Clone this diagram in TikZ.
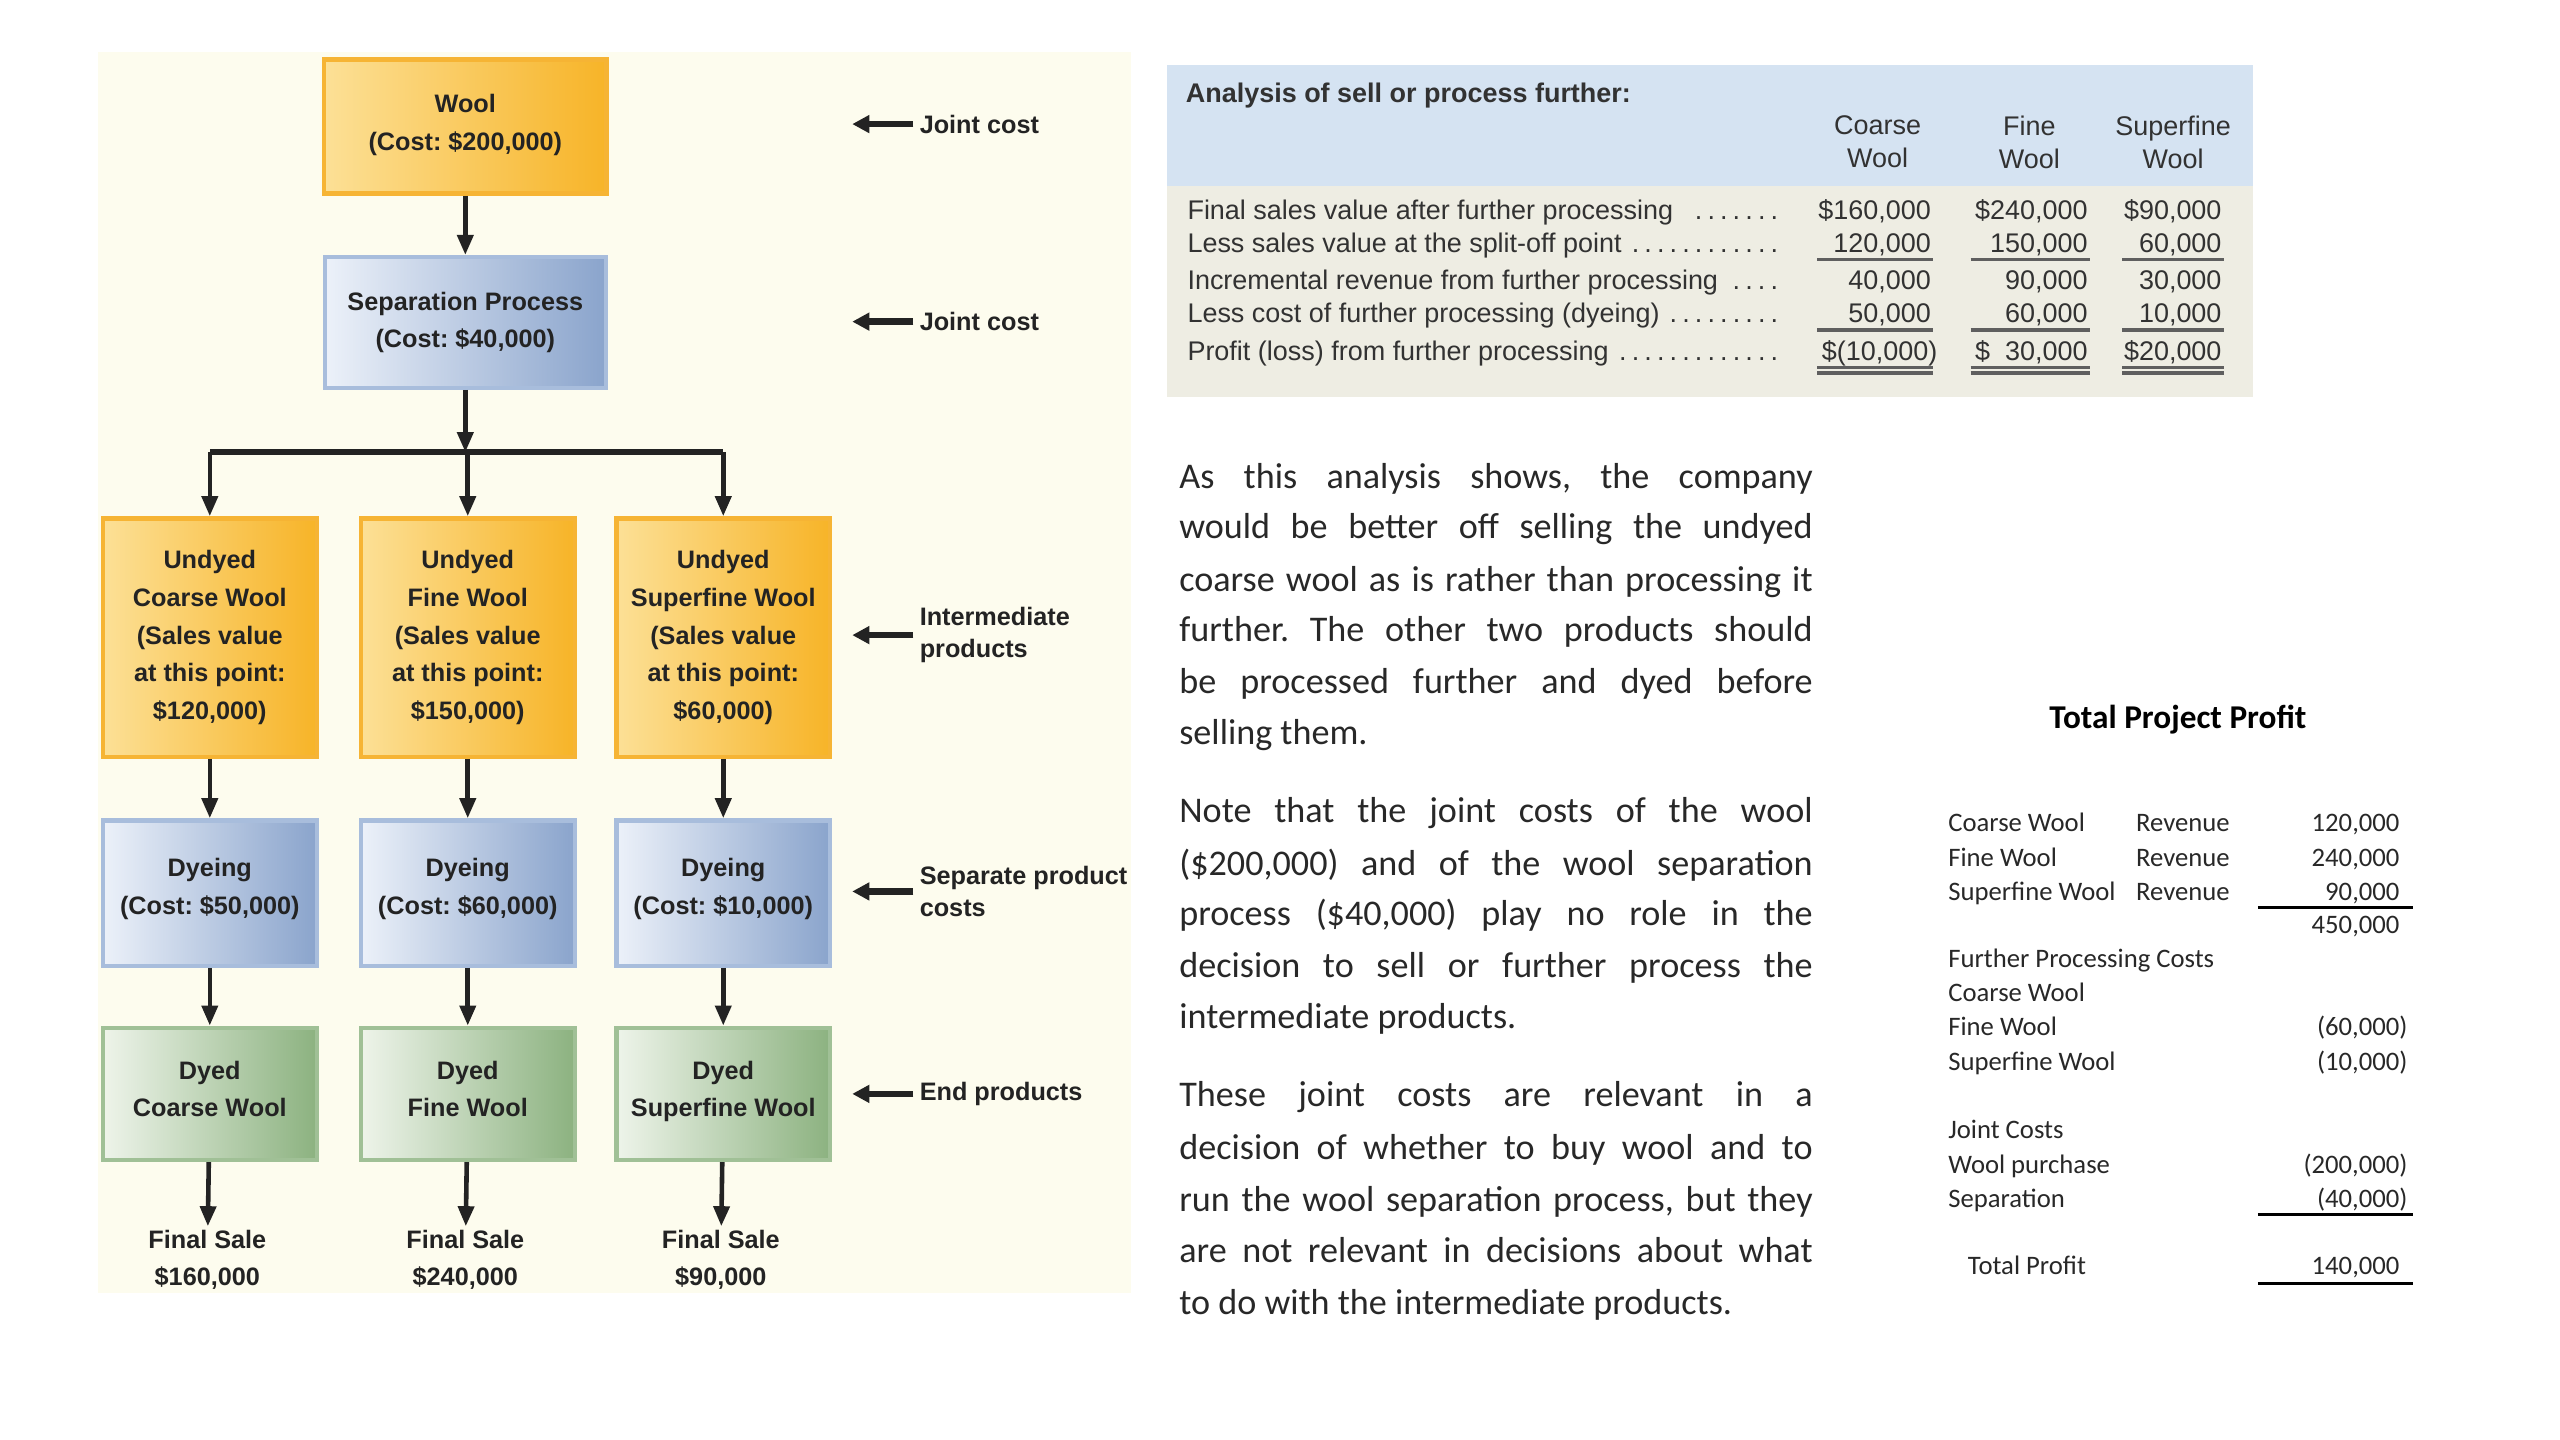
\documentclass[tikz,border=0pt]{standalone}
\usepackage{fontspec}
\setmainfont{Liberation Sans}
\newfontfamily\calfont{Carlito}
\usetikzlibrary{arrows.meta}
\frenchspacing
\definecolor{cream}{RGB}{253,252,238}
\definecolor{orbord}{RGB}{246,180,52}
\definecolor{orlight}{RGB}{252,224,150}
\definecolor{ordark}{RGB}{247,180,40}
\definecolor{blbord}{RGB}{168,189,220}
\definecolor{bllight}{RGB}{236,241,249}
\definecolor{bldark}{RGB}{138,164,204}
\definecolor{grbord}{RGB}{160,192,150}
\definecolor{grlight}{RGB}{238,244,234}
\definecolor{grdark}{RGB}{140,178,128}
\definecolor{tblue}{RGB}{213,227,242}
\definecolor{tbeige}{RGB}{238,237,227}
\definecolor{txt}{RGB}{35,35,35}
\definecolor{ttxt}{RGB}{50,50,50}
\definecolor{ulc}{RGB}{95,95,95}
\definecolor{ptxt}{RGB}{40,40,40}
\newcommand\dleader{\leaders\hbox to 4.4pt{\hss.\hss}\hfill}
\newcommand\lbl[1]{\makebox[7.32cm][l]{#1\ \dleader}}
\newcommand\jl[1]{\makebox[7.76cm][s]{#1}}
\newcommand\xdepth[1]{\rule[-#1]{0pt}{0pt}}
\begin{document}
\begin{tikzpicture}[x=0.02cm,y=-0.02cm,
 dtext/.style={font=\fontsize{8.8}{13.1}\selectfont\bfseries, text=txt, align=center, inner sep=1pt},
 boxbase/.style={dtext, line width=1.5pt, inner sep=0pt},
 obox/.style={boxbase, draw=orbord, left color=orlight, right color=ordark},
 bbox/.style={boxbase, draw=blbord, left color=bllight, right color=bldark},
 gbox/.style={boxbase, draw=grbord, left color=grlight, right color=grdark},
 colw/.style={minimum width=2.62cm},
 flow/.style={draw=txt, line width=1.6pt, -{Triangle[length=7pt,width=5.5pt]}},
 lab/.style={font=\fontsize{8.8}{11.4}\selectfont\bfseries, text=txt, align=left, anchor=west, inner sep=0pt},
 larrow/.style={draw=txt, line width=2.2pt, -{Triangle[length=6pt,width=6pt]}, shorten <=2pt},
 tt/.style={font=\fontsize{9.4}{11.4}\selectfont, text=ttxt, inner sep=0pt},
 uline/.style={draw=ulc, line width=1.2pt},
 para/.style={font=\calfont\fontsize{12.6}{17.9}\selectfont, text=ptxt, inner sep=0pt, anchor=base west},
 pf/.style={font=\calfont\fontsize{9.3}{11}\selectfont, text=ptxt, inner sep=0pt},
 pline/.style={draw=black, line width=1.1pt}
]
\useasboundingbox (0,0) rectangle (1568,882);
\fill[white] (0,0) rectangle (1568,882);
% left panel background
\fill[cream] (60,32) rectangle (693,792);

% boxes
\node[obox, minimum width=3.46cm, minimum height=1.64cm] (wool) at (285,77.5) {Wool\\(Cost: \$200,000)\xdepth{3pt}};
\node[bbox, minimum width=3.44cm, minimum height=1.6cm] (sep) at (285,197.5) {Separation Process\\(Cost: \$40,000)};
\coordinate (barY) at (0,277);
\node[obox, colw, minimum height=2.92cm] (uc) at (128.5,390.5) {Undyed\\Coarse Wool\\(Sales value\\at this point:\\\$120,000)};
\node[obox, colw, minimum height=2.92cm] (uf) at (286.5,390.5) {Undyed\\Fine Wool\\(Sales value\\at this point:\\\$150,000)};
\node[obox, colw, minimum height=2.92cm] (us) at (443,390.5) {Undyed\\Superfine Wool\\(Sales value\\at this point:\\\$60,000)};
\node[bbox, colw, minimum height=1.78cm] (dc) at (128.5,547) {Dyeing\\(Cost: \$50,000)\xdepth{4.6pt}};
\node[bbox, colw, minimum height=1.78cm] (df) at (286.5,547) {Dyeing\\(Cost: \$60,000)\xdepth{4.6pt}};
\node[bbox, colw, minimum height=1.78cm] (ds) at (443,547) {Dyeing\\(Cost: \$10,000)\xdepth{4.6pt}};
\node[gbox, colw, minimum height=1.62cm] (gc) at (128.5,670) {Dyed\\Coarse Wool\xdepth{3.6pt}};
\node[gbox, colw, minimum height=1.62cm] (gf) at (286.5,670) {Dyed\\Fine Wool\xdepth{3.6pt}};
\node[gbox, colw, minimum height=1.62cm] (gs) at (443,670) {Dyed\\Superfine Wool\xdepth{3.6pt}};
\node[dtext] (fc) at (127,771.5) {Final Sale\\\$160,000};
\node[dtext] (ff) at (285,771.5) {Final Sale\\\$240,000};
\node[dtext] (fsu) at (441.5,771.5) {Final Sale\\\$90,000};

% connectors
\draw[flow] (wool) -- (sep);
\draw[flow] (sep) -- (sep.south |- barY);
\draw[draw=txt, line width=2.2pt] (uc.north |- barY) -- (us.north |- barY);
\draw[flow] (uc.north |- barY) -- (uc);
\draw[flow] (uf.north |- barY) -- (uf);
\draw[flow] (us.north |- barY) -- (us);
\draw[flow] (uc) -- (dc);
\draw[flow] (uf) -- (df);
\draw[flow] (us) -- (ds);
\draw[flow] (dc) -- (gc);
\draw[flow] (df) -- (gf);
\draw[flow] (ds) -- (gs);
\draw[flow] (gc) -- (fc);
\draw[flow] (gf) -- (ff);
\draw[flow] (gs) -- (fsu);

% side labels
\node[lab] (jc1) at (563,76) {Joint cost};
\coordinate (jc1e) at (522,76);
\draw[larrow] (jc1) -- (jc1e);
\node[lab] (jc2) at (563,197) {Joint cost};
\coordinate (jc2e) at (522,197);
\draw[larrow] (jc2) -- (jc2e);
\node[lab] (ip) at (563,389) {Intermediate\\products};
\coordinate (ipe) at (522,389);
\draw[larrow] (ip) -- (ipe);
\node[lab] (spc) at (563,546) {Separate product\\costs};
\coordinate (spce) at (522,546);
\draw[larrow] (spc) -- (spce);
\node[lab] (ep) at (563,670) {End products};
\coordinate (epe) at (522,670);
\draw[larrow] (ep) -- (epe);

% analysis table
\fill[tblue] (715,40) rectangle (1380,114);
\fill[tbeige] (715,114) rectangle (1380,243);
\node[tt, anchor=base west] (ttl) at (726,62.5) {\bfseries Analysis of sell or process further:};
\node[tt, align=center] (hc) at (1150,87) {Coarse\\Wool};
\node[tt, align=center] (hf) at (1243,87) {Fine\\Wool};
\node[tt, align=center] (hs) at (1331,87) {Superfine\\Wool};
\node[tt, anchor=base west] (r1) at (727,134.5) {\lbl{Final sales value after further processing}};
\node[tt, anchor=base west] (r2) at (727,154.5) {\lbl{Less sales value at the split-off point}};
\node[tt, anchor=base west] (r3) at (727,177.5) {\lbl{Incremental revenue from further processing}};
\node[tt, anchor=base west] (r4) at (727,197.5) {\lbl{Less cost of further processing (dyeing)}};
\node[tt, anchor=base west] (r5) at (727,220.5) {\lbl{Profit (loss) from further processing}};
\node[tt, anchor=base east] (v11) at (1183,134.5) {\$160,000};
\node[tt, anchor=base east] (v12) at (1279,134.5) {\$240,000};
\node[tt, anchor=base east] (v13) at (1361,134.5) {\$90,000};
\node[tt, anchor=base east] (v21) at (1183,154.5) {120,000};
\node[tt, anchor=base east] (v22) at (1279,154.5) {150,000};
\node[tt, anchor=base east] (v23) at (1361,154.5) {60,000};
\node[tt, anchor=base east] (v31) at (1183,177.5) {40,000};
\node[tt, anchor=base east] (v32) at (1279,177.5) {90,000};
\node[tt, anchor=base east] (v33) at (1361,177.5) {30,000};
\node[tt, anchor=base east] (v41) at (1183,197.5) {50,000};
\node[tt, anchor=base east] (v42) at (1279,197.5) {60,000};
\node[tt, anchor=base east] (v43) at (1361,197.5) {10,000};
\node[tt, anchor=base east] (v51) at (1187,220.5) {\$(10,000)};
\node[tt, anchor=base east] (v52) at (1279,220.5) {\$\phantom{2}30,000};
\node[tt, anchor=base east] (v53) at (1361,220.5) {\$20,000};
\foreach \yy in {159,202,225,228.5}{
  \draw[uline] (1113,\yy) -- (1184,\yy);
  \draw[uline] (1207,\yy) -- (1280,\yy);
  \draw[uline] (1300,\yy) -- (1362,\yy);
}

% paragraphs
\node[para] (p1) at (722,299) {\jl{As this analysis shows, the company}};
\node[para] (p2) at (722,330) {\jl{would be better off selling the undyed}};
\node[para] (p3) at (722,362) {\jl{coarse wool as is rather than processing it}};
\node[para] (p4) at (722,393) {\jl{further. The other two products should}};
\node[para] (p5) at (722,425) {\jl{be processed further and dyed before}};
\node[para] (p6) at (722,456) {selling them.};
\node[para] (p7) at (722,504) {\jl{Note that the joint costs of the wool}};
\node[para] (p8) at (722,536) {\jl{(\$200,000) and of the wool separation}};
\node[para] (p9) at (722,567) {\jl{process (\$40,000) play no role in the}};
\node[para] (p10) at (722,599) {\jl{decision to sell or further process the}};
\node[para] (p11) at (722,630) {intermediate products.};
\node[para] (p12) at (722,678) {\jl{These joint costs are relevant in a}};
\node[para] (p13) at (722,710) {\jl{decision of whether to buy wool and to}};
\node[para] (p14) at (722,742) {\jl{run the wool separation process, but they}};
\node[para] (p15) at (722,773) {\jl{are not relevant in decisions about what}};
\node[para] (p16) at (722,805) {to do with the intermediate products.};

% total project profit
\node[pf, anchor=base, font=\calfont\fontsize{11.6}{13}\selectfont\bfseries, text=black] (tpp) at (1334,446) {Total Project Profit};
\node[pf, anchor=base west] (a1) at (1193,509.5) {Coarse Wool};
\node[pf, anchor=base west] (a1r) at (1308,509.5) {Revenue};
\node[pf, anchor=base east] (a1v) at (1470,509.5) {120,000};
\node[pf, anchor=base west] (a2) at (1193,530.5) {Fine Wool};
\node[pf, anchor=base west] (a2r) at (1308,530.5) {Revenue};
\node[pf, anchor=base east] (a2v) at (1470,530.5) {240,000};
\node[pf, anchor=base west] (a3) at (1193,551.5) {Superfine Wool};
\node[pf, anchor=base west] (a3r) at (1308,551.5) {Revenue};
\node[pf, anchor=base east] (a3v) at (1470,551.5) {90,000};
\node[pf, anchor=base east] (a4v) at (1470,571.5) {450,000};
\node[pf, anchor=base west] (a5) at (1193,592.5) {Further Processing Costs};
\node[pf, anchor=base west] (a6) at (1193,613.5) {Coarse Wool};
\node[pf, anchor=base west] (a7) at (1193,634.5) {Fine Wool};
\node[pf, anchor=base east] (a7v) at (1470,634.5) {(60,000\rlap{)}};
\node[pf, anchor=base west] (a8) at (1193,655.5) {Superfine Wool};
\node[pf, anchor=base east] (a8v) at (1470,655.5) {(10,000\rlap{)}};
\node[pf, anchor=base west] (a9) at (1193,697.5) {Joint Costs};
\node[pf, anchor=base west] (a10) at (1193,718.5) {Wool purchase};
\node[pf, anchor=base east] (a10v) at (1470,718.5) {(200,000\rlap{)}};
\node[pf, anchor=base west] (a11) at (1193,739.5) {Separation};
\node[pf, anchor=base east] (a11v) at (1470,739.5) {(40,000\rlap{)}};
\node[pf, anchor=base west] (a12) at (1205,780.5) {Total Profit};
\node[pf, anchor=base east] (a12v) at (1470,780.5) {140,000};
\draw[pline] (1383,556) -- (1478,556);
\draw[pline] (1383,744) -- (1478,744);
\draw[pline] (1383,786) -- (1478,786);
\end{tikzpicture}
\end{document}
